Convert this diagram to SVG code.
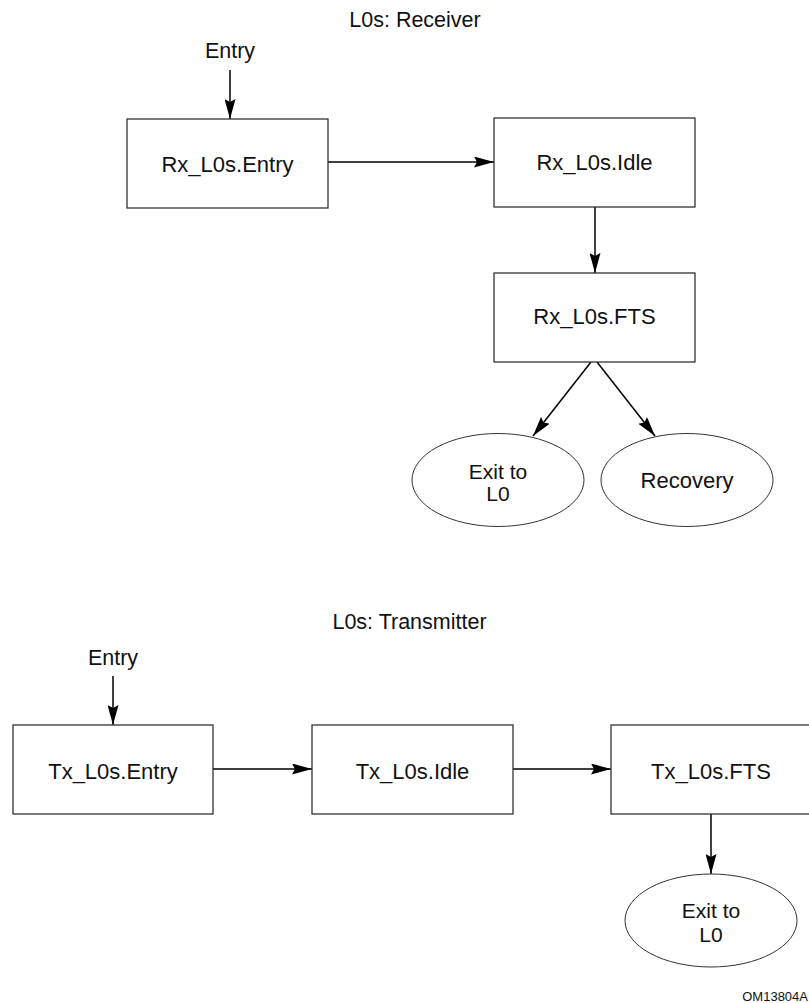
<svg xmlns="http://www.w3.org/2000/svg" width="809" height="1003" viewBox="0 0 809 1003">
<style>
text{font-family:"Liberation Sans",Arial,sans-serif;fill:#111;text-anchor:middle}
.t{font-size:21.5px}
.n{font-size:22px}
.e{font-size:21px}
.box{fill:#fff;stroke:#333;stroke-width:1.3}
.ell{fill:#fff;stroke:#333;stroke-width:1}
.c line{stroke:#000;stroke-width:1.5}
</style>
<defs>
<marker id="ah" markerUnits="userSpaceOnUse" markerWidth="20" markerHeight="11" refX="20" refY="5.5" orient="auto">
<path d="M0,0 L20,5.5 L0,11 L3,5.5 z" fill="#000"/>
</marker>
</defs>
<rect width="809" height="1003" fill="#fff"/>
<text class="t" x="415" y="27">L0s: Receiver</text>
<text class="t" x="409.5" y="629">L0s: Transmitter</text>
<text x="808" y="1001" style="font-size:13px;text-anchor:end">OM13804A</text>

<g class="c" id="connectors">
<line x1="230" y1="70" x2="230" y2="119" marker-end="url(#ah)"/>
<line x1="328" y1="162" x2="494" y2="162" marker-end="url(#ah)"/>
<line x1="595" y1="207" x2="595" y2="273" marker-end="url(#ah)"/>
<line x1="591" y1="362" x2="533" y2="436" marker-end="url(#ah)"/>
<line x1="597" y1="362" x2="655" y2="436" marker-end="url(#ah)"/>
<line x1="113" y1="676" x2="113" y2="725" marker-end="url(#ah)"/>
<line x1="213" y1="769" x2="312" y2="769" marker-end="url(#ah)"/>
<line x1="513" y1="769" x2="611" y2="769" marker-end="url(#ah)"/>
<line x1="711" y1="814" x2="711" y2="874" marker-end="url(#ah)"/>
</g>

<g id="rx-entry-label"><text class="t" x="230" y="58">Entry</text></g>
<g id="rx-entry"><rect class="box" x="127" y="119" width="201" height="89"/><text class="n" x="227.5" y="171.5">Rx_L0s.Entry</text></g>
<g id="rx-idle"><rect class="box" x="494" y="118" width="201" height="89"/><text class="n" x="594.5" y="170">Rx_L0s.Idle</text></g>
<g id="rx-fts"><rect class="box" x="494" y="273" width="201" height="89"/><text class="n" x="594.5" y="323.5">Rx_L0s.FTS</text></g>
<g id="rx-exit"><ellipse class="ell" cx="498" cy="480" rx="86" ry="46.5"/><text class="e" x="498" y="478.5">Exit to</text><text class="e" x="498" y="501">L0</text></g>
<g id="rx-recovery"><ellipse class="ell" cx="687" cy="480" rx="86" ry="46.5"/><text class="n" x="687" y="487.5">Recovery</text></g>

<g id="tx-entry-label"><text class="t" x="113" y="665">Entry</text></g>
<g id="tx-entry"><rect class="box" x="13" y="725" width="200" height="89"/><text class="n" x="113" y="779">Tx_L0s.Entry</text></g>
<g id="tx-idle"><rect class="box" x="312" y="725" width="201" height="89"/><text class="n" x="412.5" y="779">Tx_L0s.Idle</text></g>
<g id="tx-fts"><rect class="box" x="611" y="725" width="201" height="89"/><text class="n" x="711" y="779">Tx_L0s.FTS</text></g>
<g id="tx-exit"><ellipse class="ell" cx="711" cy="920.5" rx="86" ry="46.5"/><text class="e" x="711" y="918">Exit to</text><text class="e" x="711" y="941.5">L0</text></g>
</svg>
